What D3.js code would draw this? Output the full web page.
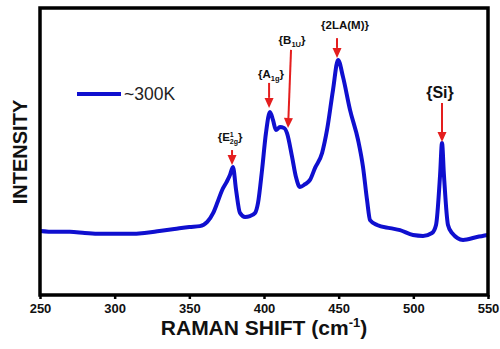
<!DOCTYPE html>
<html>
<head>
<meta charset="utf-8">
<script src="https://cdn.jsdelivr.net/npm/d3@7"></script>
<style>
  body { margin: 0; background: #fff; }
  text { font-family: "Liberation Sans", Arial, sans-serif; }
</style>
</head>
<body>
<svg id="chart" width="500" height="349"></svg>
<script>
// Raman spectrum (~300K) (arbitrary intensity units)
const ramanShift = [250, 260, 270, 280, 290, 300, 310, 320, 330, 340, 350, 357, 362, 366, 369, 372, 375, 377.2, 379.2, 381.3,
  383.9, 387.3, 390.6, 394, 396, 398.7, 401.3, 404, 406, 408, 410.7, 413.4, 415.4, 418.8, 421.4, 424.1, 427.5, 430.8,
  434.2, 438.9, 442.2, 446.2, 449.6, 452.9, 457.6, 463, 466.3, 469, 471, 475.7, 484.4, 491.1, 499.8, 506.5, 512.5,
  515.2, 517.9, 519.2, 520.5, 523.2, 525.9, 533.3, 542.6, 550];
const intensity = [22.3, 22.0, 22.0, 21.6, 21.3, 21.3, 21.3, 21.6, 22.3, 23.0, 23.7, 24.0, 25.5, 28.6, 32.5, 36.6, 39.4, 41.8, 44.6, 36.6,
  28.6, 27.2, 27.5, 28.6, 32.1, 43.6, 56.4, 63.8, 61.0, 57.5, 58.5, 58.2, 56.4, 48.1, 41.1, 37.6, 38.6, 40.1,
  44.3, 49.5, 57.5, 71.4, 81.9, 76.0, 64.5, 54.0, 44.6, 33.1, 26.1, 24.4, 23.3, 22.6, 20.9, 20.6, 21.6,
  24.4, 41.8, 53.0, 41.8, 24.4, 21.6, 19.2, 20.2, 20.9];

const xTicks = [250, 300, 350, 400, 450, 500, 550];
const seriesName = "~300K";

// peak annotations: arrow tail/tip in data units
const peakShiftTail = [378.6, 403.4, 418.1, 448.9, 519.2];
const peakShiftTip  = [378.6, 403.4, 416.1, 448.9, 519.2];
const peakTail = [50.5, 73.9, 85.4, 89.5, 66.9];
const peakTip  = [45.3, 65.2, 58.2, 82.6, 53.3];

const svg = d3.select("#chart");
const plotLeft = 40, plotRight = 488, plotTop = 8, plotBottom = 295;

const x = d3.scaleLinear().domain([250, 550]).range([plotLeft, plotRight]);
const y = d3.scaleLinear().domain([0, 100]).range([plotBottom, plotTop]);

// x axis
const xAxis = svg.append("g")
  .attr("transform", "translate(0," + plotBottom + ")")
  .call(d3.axisBottom(x).tickValues(xTicks).tickSize(4).tickPadding(5));
xAxis.select(".domain").remove();
xAxis.selectAll(".tick line").attr("stroke", "#000").attr("stroke-width", 2.5);
xAxis.selectAll(".tick text")
  .attr("fill", "#111")
  .style("font-family", "'Liberation Sans', Arial, sans-serif")
  .style("font-weight", "bold")
  .style("font-size", "13px");

// spectrum
const data = ramanShift.map((s, i) => ({s: s, v: intensity[i]}));
const line = d3.line()
  .x(d => x(d.s))
  .y(d => y(d.v))
  .curve(d3.curveMonotoneX);

svg.append("path")
  .datum(data)
  .attr("d", line)
  .attr("fill", "none")
  .attr("stroke", "#0f0fcf")
  .attr("stroke-width", 4)
  .attr("stroke-linejoin", "round");

// frame
svg.append("rect")
  .attr("x", plotLeft).attr("y", plotTop)
  .attr("width", plotRight - plotLeft).attr("height", plotBottom - plotTop)
  .attr("fill", "none")
  .attr("stroke", "#000")
  .attr("stroke-width", 3.5);

// arrows
const red = "#e41e1e";
peakTail.forEach((t, i) => {
  const x0 = x(peakShiftTail[i]), y0 = y(t);
  const x1 = x(peakShiftTip[i]), y1 = y(peakTip[i]);
  const ang = Math.atan2(y1 - y0, x1 - x0);
  const hl = 10, hw = 4.5;
  const bx = x1 - hl * Math.cos(ang), by = y1 - hl * Math.sin(ang);
  svg.append("line")
    .attr("x1", x0).attr("y1", y0).attr("x2", bx).attr("y2", by)
    .attr("stroke", red).attr("stroke-width", 2);
  svg.append("path")
    .attr("d", "M" + x1 + "," + y1 +
      "L" + (bx + hw * Math.sin(ang)) + "," + (by - hw * Math.cos(ang)) +
      "L" + (bx - hw * Math.sin(ang)) + "," + (by + hw * Math.cos(ang)) + "Z")
    .attr("fill", red);
});

// peak labels
function label(i, dx, dy) {
  return svg.append("text")
    .attr("x", x(peakShiftTail[i]) + dx)
    .attr("y", y(peakTail[i]) + dy)
    .attr("text-anchor", "middle")
    .style("font-weight", "bold")
    .style("font-size", "11.5px")
    .attr("fill", "#111");
}
let t;
t = label(0, -2, -9);
t.append("tspan").text("{E");
t.append("tspan").attr("dy", -4).style("font-size", "7px").text("1");
t.append("tspan").attr("dx", -4).attr("dy", 7).style("font-size", "7px").text("2g");
t.append("tspan").attr("dy", -3).text("}");

t = label(1, 2, -5);
t.append("tspan").text("{A");
t.append("tspan").attr("dy", 3).style("font-size", "7.5px").text("1g");
t.append("tspan").attr("dy", -3).text("}");

t = label(2, 1, -6);
t.append("tspan").text("{B");
t.append("tspan").attr("dy", 3).style("font-size", "7.5px").text("1U");
t.append("tspan").attr("dy", -3).text("}");

t = label(3, 8, -9);
t.text("{2LA(M)}");

t = label(4, -2, -5);
t.style("font-size", "16px").text("{Si}");

// legend
svg.append("line")
  .attr("x1", 77).attr("x2", 121).attr("y1", 94).attr("y2", 94)
  .attr("stroke", "#0f0fcf").attr("stroke-width", 4);
svg.append("text")
  .attr("x", 124).attr("y", 100)
  .style("font-size", "17.5px")
  .attr("fill", "#222")
  .text(seriesName);

// axis titles
const xt = svg.append("text")
  .attr("x", 264).attr("y", 335)
  .attr("text-anchor", "middle")
  .style("font-weight", "bold")
  .style("font-size", "21px")
  .attr("fill", "#111");
xt.append("tspan").text("RAMAN SHIFT (cm");
xt.append("tspan").attr("dy", -8).style("font-size", "13px").text("-1");
xt.append("tspan").attr("dy", 8).text(")");

svg.append("text")
  .attr("transform", "translate(27,152) rotate(-90)")
  .attr("text-anchor", "middle")
  .style("font-weight", "bold")
  .style("font-size", "20px")
  .attr("fill", "#111")
  .text("INTENSITY");
</script>
</body>
</html>
